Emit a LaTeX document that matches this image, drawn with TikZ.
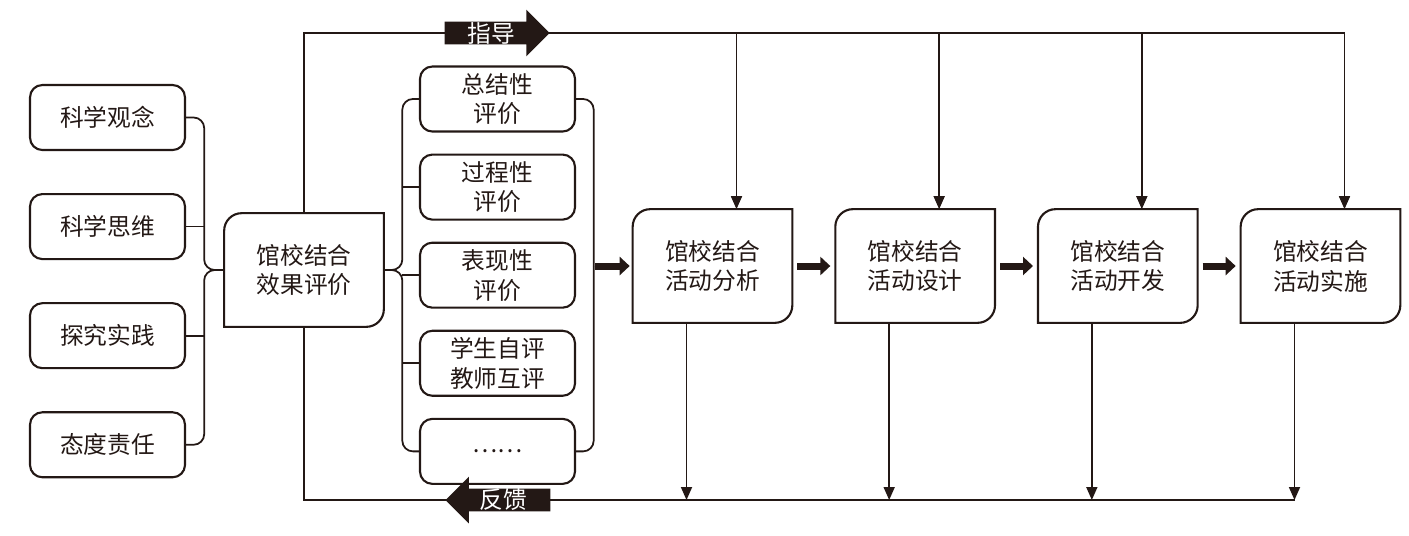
\documentclass[tikz,border=0pt]{standalone}
\usepackage{fontspec}
\setmainfont{Noto Sans CJK SC}
\usetikzlibrary{arrows.meta,positioning,shapes.arrows}
\definecolor{ink}{HTML}{231815}

\begin{document}
\begin{tikzpicture}[x=0.02cm, y=-0.02cm, node distance=0.84cm and 0.86cm,
  every node/.style={font=\fontsize{13.5}{17}\selectfont, text=ink},
  item/.style={draw=ink, line width=1.2pt, rounded corners=7pt, minimum width=3.1cm, minimum height=1.3cm, inner sep=2pt, align=center},
  stage/.style={minimum width=3.18cm, minimum height=2.26cm, align=center},
  link/.style={draw=ink, line width=1pt},
  feed/.style={link, -{Triangle[length=0.26cm, width=0.22cm]}},
  push/.style={draw=ink, line width=0.14cm, -{Triangle[length=0.2cm, width=0.36cm]}, shorten <=0.1cm, shorten >=0.1cm},
  flag/.style={single arrow, fill=ink, text=white, single arrow head extend=0.24cm, inner xsep=0.3cm, inner ysep=0pt, minimum height=2.1cm}]
  \useasboundingbox (0,0) rectangle (1409,535);

  % core literacy
  \node[item] (k1) at (107.5,117.5) {科学观念};
  \node[item, below=of k1] (k2) {科学思维};
  \node[item, below=of k2] (k3) {探究实践};
  \node[item, below=of k3] (k4) {态度责任};

  % evaluation
  \node[stage] (eval) at (304,270) {馆校结合\\效果评价};

  \node[item] (m1) at (497.5,99) {总结性\\评价};
  \node[item, below=0.42cm of m1] (m2) {过程性\\评价};
  \node[item, below=0.42cm of m2] (m3) {表现性\\评价};
  \node[item, below=0.42cm of m3] (m4) {学生自评\\教师互评};
  \node[item, below=0.42cm of m4] (m5) {……};

  % activity chain
  \node[stage] (ana) at (712.5,266) {馆校结合\\活动分析};
  \node[stage, right=of ana] (des) {馆校结合\\活动设计};
  \node[stage, right=of des] (dev) {馆校结合\\活动开发};
  \node[stage, right=of dev] (imp) {馆校结合\\活动实施};

  \foreach \n in {eval,ana,des,dev,imp}
    \draw[draw=ink, line width=1.2pt] (\n.south west) -- ([yshift=-0.35cm]\n.north west)
      arc[start angle=180, end angle=90, radius=0.35cm] -- (\n.north east)
      -- ([yshift=0.35cm]\n.south east) arc[start angle=0, end angle=-90, radius=0.35cm] -- cycle;

  % brackets
  \coordinate[left=0.4cm of eval.west] (jl);
  \coordinate[right=0.37cm of eval.east] (jm);
  \coordinate[left=0.78cm of ana.west] (jr);
  \draw[link, rounded corners=6pt] (k1.east) -| (jl) -- (eval.west);
  \draw[link, rounded corners=6pt] (k4.east) -| (jl) -- (eval.west);
  \draw[link] (k2.east) -- (k2.east -| jl);
  \draw[link] (k3.east) -- (k3.east -| jl);
  \draw[link, rounded corners=6pt] (m1.west) -| (jm) -- (eval.east);
  \draw[link, rounded corners=6pt] (m5.west) -| (jm) -- (eval.east);
  \foreach \n in {m2,m3,m4}
    \draw[link] (\n.west) -- (\n.west -| jm);
  \draw[link, rounded corners=6pt] (m1.east) -| (jr);
  \draw[link, rounded corners=6pt] (m5.east) -| (jr);

  \draw[push, shorten <=0.03cm, shorten >=0.06cm] (jr) -- (ana.west);
  \draw[push] (ana) -- (des);
  \draw[push] (des) -- (dev);
  \draw[push] (dev) -- (imp);

  % guide / feedback loop
  \coordinate (guide) at (0,33);
  \coordinate (back) at (0,500);
  \foreach \n in {ana,des,dev,imp} {
    \coordinate (\n-in) at ([xshift=0.48cm]\n.north);
    \coordinate (\n-out) at ([xshift=-0.52cm]\n.south);
    \draw[feed] (\n-in |- guide) -- (\n-in);
    \draw[feed] (\n-out) -- (\n-out |- back);
  }
  \draw[link] (eval.north) |- (imp-in |- guide);
  \draw[link] (eval.south) |- (imp-out |- back);

  \node[flag, anchor=tip] (guidetag) at (550,33) {指导};
  \node[flag, shape border rotate=180, anchor=tip] (backtag) at (445,500) {反馈};
\end{tikzpicture}
\end{document}
